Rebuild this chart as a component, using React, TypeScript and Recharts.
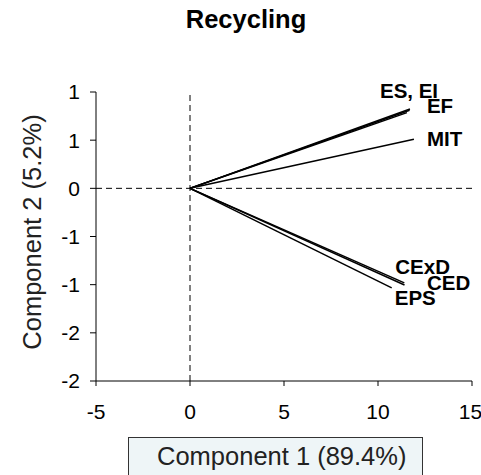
import React from "react";
import { ScatterChart, Scatter, XAxis, YAxis, ReferenceLine } from "recharts";

// loadings on the first two components
const vectorNames = ["ES", "EI", "EF", "MIT", "CExD", "CED", "EPS"];
const vectorLabels = ["ES, EI", "", "EF", "MIT", "CExD", "CED", "EPS"];
const component1 = [11.7, 11.68, 11.54, 11.91, 11.4, 11.41, 10.73];
const component2 = [0.823, 0.81, 0.786, 0.51, -0.982, -1.003, -1.034];

const xTicks = [-5, 0, 5, 10, 15];
const yTicks = [-2, -1.5, -1, -0.5, 0, 0.5, 1];

// label nudges in px from the tip of each vector
const labelNudge: [number, number][] = [
  [-30, -19],
  [0, 0],
  [20, -7.5],
  [13, -1],
  [-9, -16],
  [22.5, -2],
  [3, 10],
];

const FONT = '"Liberation Sans", Arial, sans-serif';

// excel "0" format rounds half away from zero
const fmtY = (v: number) => String(Math.sign(v) * Math.round(Math.abs(v)));

function tipShape(i: number) {
  return (props: any) => {
    const { cx, cy, payload } = props;
    if (!payload || !payload.label) return <g />;
    const [dx, dy] = labelNudge[i];
    return (
      <text
        x={cx + dx}
        y={cy + dy}
        dominantBaseline="central"
        fontFamily={FONT}
        fontSize={20.5}
        fontWeight="bold"
        fill="#000"
      >
        {payload.label}
      </text>
    );
  };
}

export default function App() {
  const series = vectorNames.map((name, i) => ({
    name,
    data: [
      { x: 0, y: 0, label: "" },
      { x: component1[i], y: component2[i], label: vectorLabels[i] },
    ],
  }));

  return (
    <div
      style={{
        position: "absolute",
        left: 0,
        top: 0,
        width: 481,
        height: 475,
        overflow: "hidden",
        background: "#fff",
        fontFamily: FONT,
      }}
    >
      <div
        style={{
          position: "absolute",
          left: 0,
          width: 492,
          top: 7,
          textAlign: "center",
          fontSize: 25.5,
          lineHeight: "25.5px",
          fontWeight: "bold",
          color: "#000",
        }}
      >
        Recycling
      </div>

      <ScatterChart width={481} height={475} margin={{ top: 92, right: 9, bottom: 0, left: 0 }}>
        <XAxis
          type="number"
          dataKey="x"
          domain={[-5, 15]}
          ticks={xTicks}
          height={94}
          stroke="#000"
          tickSize={5}
          tickMargin={18}
          tick={{ fill: "#000", fontSize: 21, fontFamily: FONT }}
        />
        <YAxis
          type="number"
          dataKey="y"
          domain={[-2, 1]}
          ticks={yTicks}
          width={96}
          stroke="#000"
          tickSize={6}
          tickMargin={10}
          tickFormatter={fmtY}
          tick={{ fill: "#000", fontSize: 21, fontFamily: FONT }}
        />
        <ReferenceLine x={0} stroke="#000" strokeDasharray="6 4" />
        <ReferenceLine y={0} stroke="#000" strokeDasharray="6 4" />
        {series.map((s, i) => (
          <Scatter
            key={s.name}
            name={s.name}
            data={s.data}
            fill="#000"
            line={{ stroke: "#000", strokeWidth: 1.5 }}
            shape={tipShape(i)}
            isAnimationActive={false}
          />
        ))}
      </ScatterChart>

      <div
        style={{
          position: "absolute",
          left: 33,
          top: 232,
          transform: "translate(-50%, -50%) rotate(-90deg)",
          whiteSpace: "nowrap",
          fontSize: 25.5,
          lineHeight: "25.5px",
          color: "#222",
        }}
      >
        Component 2 (5.2%)
      </div>

      <div
        style={{
          position: "absolute",
          left: 128,
          top: 437,
          width: 293,
          height: 45,
          background: "#eef5f7",
          border: "1.5px solid #333",
        }}
      />
      <div
        style={{
          position: "absolute",
          left: 157,
          top: 443.5,
          whiteSpace: "nowrap",
          fontSize: 25.5,
          lineHeight: "25.5px",
          color: "#222",
        }}
      >
        Component 1 (89.4%)
      </div>
    </div>
  );
}
